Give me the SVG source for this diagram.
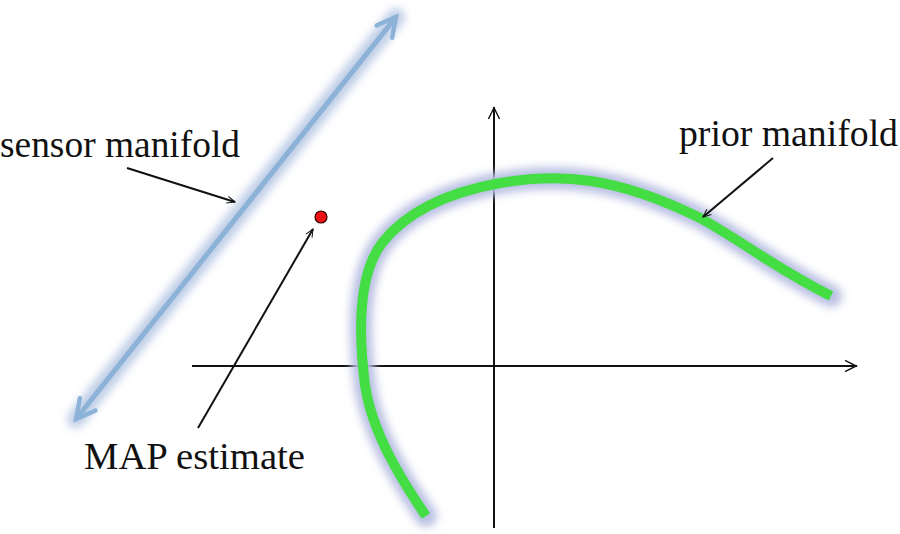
<svg xmlns="http://www.w3.org/2000/svg" width="900" height="534" viewBox="0 0 900 534">
<defs>
<style>
.lbl{font-family:"Liberation Serif","Times New Roman",serif;font-size:37px;fill:#111}
.ax{stroke:#111;stroke-width:2;fill:none}
.ptr{stroke:#111;stroke-width:2;fill:none}
</style>
<filter id="blur" x="-20%" y="-20%" width="140%" height="140%"><feGaussianBlur stdDeviation="4"/></filter>
<marker id="ah" viewBox="0 0 20 20" refX="18" refY="10" markerWidth="10" markerHeight="10" markerUnits="userSpaceOnUse" orient="auto"><path d="M2,3 L18,10 L2,17" fill="none" stroke="#111" stroke-width="2"/></marker>
<marker id="ahs" viewBox="0 0 20 20" refX="18" refY="10" markerWidth="16" markerHeight="16" markerUnits="userSpaceOnUse" orient="auto"><path d="M3,3 L17,10 L3,17" fill="none" stroke="#111" stroke-width="1.8"/></marker>
<marker id="bh" viewBox="0 0 20 20" refX="17" refY="10" markerWidth="5" markerHeight="5" orient="auto-start-reverse"><path d="M2,2 L17,10 L2,18" fill="none" stroke="#8cb2d8" stroke-width="3.5" stroke-linecap="round"/></marker>
</defs>
<g id="axes">
<line class="ax" x1="192" y1="366" x2="857" y2="366" marker-end="url(#ahs)"/>
<line class="ax" x1="494" y1="528" x2="494" y2="107" marker-end="url(#ahs)"/>
</g>
<g id="sensor-manifold">
<line x1="76" y1="419" x2="396" y2="17" stroke="#b7c8e4" stroke-width="18" stroke-linecap="round" filter="url(#blur)" opacity="0.9"/>
<line x1="76" y1="419" x2="396" y2="17" stroke="#8cb2d8" stroke-width="5" marker-start="url(#bh)" marker-end="url(#bh)"/>
</g>
<g id="prior-manifold">
<path d="M426,516 C400,478 372,432 365,385 C358,330 358,275 382,243 C408,210 450,192 500,183 C560,173 615,176 700,218 C745,243 775,268 831,296" fill="none" stroke="#b9bfe2" stroke-width="22" stroke-linecap="round" filter="url(#blur)"/>
<path d="M426,516 C400,478 372,432 365,385 C358,330 358,275 382,243 C408,210 450,192 500,183 C560,173 615,176 700,218 C745,243 775,268 831,296" fill="none" stroke="#44dd44" stroke-width="10"/>
</g>
<g id="map-point">
<circle cx="321" cy="217" r="6" fill="#ee1111" stroke="#330000" stroke-width="1.2"/>
</g>
<g id="connectors">
<line class="ptr" x1="127" y1="168" x2="235" y2="202" marker-end="url(#ah)"/>
<line class="ptr" x1="773" y1="158" x2="703" y2="217" marker-end="url(#ah)"/>
<line class="ptr" x1="198" y1="428" x2="313" y2="229" marker-end="url(#ah)"/>
</g>
<g id="labels">
<text class="lbl" x="0" y="157" textLength="240" lengthAdjust="spacingAndGlyphs">sensor manifold</text>
<text class="lbl" x="679" y="146" textLength="219" lengthAdjust="spacingAndGlyphs">prior manifold</text>
<text class="lbl" x="84" y="469" textLength="221" lengthAdjust="spacingAndGlyphs">MAP estimate</text>
</g>
</svg>
